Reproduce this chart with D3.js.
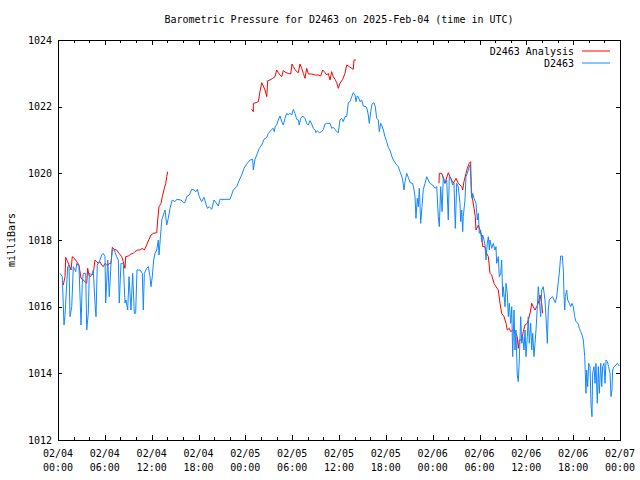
<!DOCTYPE html>
<html><head><meta charset="utf-8">
<script src="https://cdn.jsdelivr.net/npm/d3@7"></script>
<style>
body{margin:0;background:#fff}
svg text{font-family:"DejaVu Sans Mono","Liberation Mono",monospace;font-size:10px;fill:#000}
</style>
</head><body>
<svg id="chart" width="640" height="480"></svg>
<script>
const title = "Barometric Pressure for D2463 on 2025-Feb-04 (time in UTC)";
const yAxisLabel = "milliBars";
const seriesNames = ["D2463 Analysis", "D2463"];
const yTicks = [1012, 1014, 1016, 1018, 1020, 1022, 1024];
const xTickHours = [0, 6, 12, 18, 24, 30, 36, 42, 48, 54, 60, 66, 72];
const xTickDates = ["02/04","02/04","02/04","02/04","02/05","02/05","02/05","02/05","02/06","02/06","02/06","02/06","02/07"];
const xTickTimes = ["00:00","06:00","12:00","18:00","00:00","06:00","12:00","18:00","00:00","06:00","12:00","18:00","00:00"];

// [hours since 02/04 00:00 UTC, pressure mb]
const analysis = [
[0.68,1016.65],[0.90,1016.90],[0.99,1017.48],[1.24,1017.35],[1.41,1017.25],[1.67,1017.10],[1.83,1017.50],[2.09,1017.45],[2.40,1017.35],[2.69,1017.25],[2.95,1016.85],[3.24,1016.80],[3.46,1016.75],[3.68,1016.70],[3.80,1017.15],[3.97,1016.95],[4.10,1016.90],[4.32,1016.95],[4.52,1017.00],[4.74,1017.40],[4.96,1017.35],[5.16,1017.30],[5.38,1017.35],[5.60,1017.25],[5.80,1017.20],[6.02,1017.30],[6.24,1017.25],[6.44,1017.25],[6.57,1017.30],[6.79,1017.30],[6.96,1017.78],[7.21,1017.72],[7.52,1017.70],[7.81,1017.60],[8.16,1017.50],[8.37,1017.35],[8.58,1017.15],[8.67,1017.50],[9.01,1017.52],[9.35,1017.58],[9.65,1017.60],[9.86,1017.65],[10.21,1017.70],[10.51,1017.70],[10.80,1017.75],[11.06,1017.70],[11.36,1017.85],[11.66,1018.02],[11.91,1018.15],[12.21,1018.20],[12.65,1018.22],[12.77,1018.60],[12.94,1019.00],[13.20,1019.10],[13.36,1019.30],[13.62,1019.55],[13.80,1019.70],[13.93,1019.90],[14.05,1020.05],
[24.82,1021.92],[25.02,1021.85],[25.03,1022.10],[25.37,1022.12],[25.66,1022.15],[25.88,1022.45],[26.10,1022.72],[26.30,1022.62],[26.52,1022.50],[26.74,1022.30],[26.87,1022.78],[27.16,1022.80],[27.51,1022.85],[27.80,1022.90],[28.02,1023.10],[28.22,1023.02],[28.44,1022.95],[28.66,1022.90],[28.86,1023.08],[29.21,1023.02],[29.50,1023.00],[29.81,1022.98],[29.98,1023.28],[30.15,1023.20],[30.36,1023.12],[30.58,1023.05],[30.79,1023.02],[31.00,1023.28],[31.22,1023.15],[31.43,1023.00],[31.64,1022.85],[31.86,1023.15],[32.07,1022.98],[32.50,1022.98],[32.93,1022.95],[33.35,1022.95],[33.66,1022.92],[33.91,1023.10],[34.21,1023.02],[34.42,1022.95],[34.63,1023.00],[34.85,1022.80],[35.06,1023.05],[35.27,1022.90],[35.49,1022.82],[35.71,1022.72],[35.91,1022.55],[36.13,1022.70],[36.47,1022.82],[36.77,1023.00],[36.99,1023.25],[37.32,1023.20],[37.63,1023.15],[37.83,1023.12],[37.92,1023.40],[38.18,1023.40],
[48.81,1019.70],[48.85,1020.00],[49.16,1020.00],[49.58,1019.70],[50.00,1020.02],[50.22,1019.90],[50.64,1019.70],[50.99,1019.85],[51.28,1019.70],[51.72,1019.60],[51.85,1019.50],[52.01,1019.75],[52.27,1020.00],[52.44,1020.15],[52.69,1020.30],[52.87,1020.35],[52.95,1019.40],[53.13,1019.20],[53.30,1018.95],[53.46,1018.70],[53.55,1018.30],[53.85,1018.45],[54.06,1018.30],[54.28,1018.10],[54.41,1017.80],[54.70,1017.80],[54.92,1017.60],[55.13,1017.50],[55.35,1017.00],[55.56,1016.95],[55.86,1016.70],[56.11,1016.60],[56.41,1016.50],[56.63,1016.10],[56.84,1015.80],[57.14,1015.70],[57.40,1015.50],[57.56,1015.30],[57.82,1015.35],[58.00,1015.25],[58.25,1015.30],[58.42,1015.25],[58.67,1015.20],[58.84,1015.10],[58.97,1014.75],[59.10,1015.00],[59.41,1015.00],[59.61,1015.25],[59.83,1015.45],[60.12,1015.50],[60.38,1015.70],[60.56,1015.90],[60.69,1016.10],[60.89,1016.00],[61.11,1015.90],[61.33,1016.00],[61.53,1016.10],[61.75,1016.35],[61.97,1016.10],[62.09,1015.80]
];

const observed = [
[0.26,1017.00],[0.55,1016.90],[0.77,1015.45],[0.90,1015.75],[1.24,1017.20],[1.41,1017.25],[1.54,1015.70],[1.76,1016.00],[1.96,1017.20],[2.27,1017.05],[2.40,1017.30],[2.69,1017.20],[2.95,1015.45],[3.11,1016.70],[3.24,1017.00],[3.55,1017.00],[3.68,1015.30],[3.88,1015.81],[4.01,1017.00],[4.32,1016.95],[4.52,1017.10],[4.74,1016.11],[4.87,1015.70],[5.03,1017.25],[5.38,1017.40],[5.60,1017.55],[5.80,1017.60],[6.02,1017.50],[6.11,1016.11],[6.37,1017.40],[6.57,1016.30],[6.79,1017.30],[6.96,1017.70],[7.21,1017.70],[7.52,1017.50],[7.73,1017.40],[7.85,1016.11],[8.07,1017.30],[8.37,1017.30],[8.58,1016.11],[8.71,1016.20],[8.93,1015.90],[9.10,1016.90],[9.35,1015.90],[9.57,1017.00],[9.78,1015.80],[9.95,1015.80],[10.12,1017.10],[10.51,1017.10],[10.80,1017.00],[10.93,1015.90],[11.06,1017.00],[11.36,1017.15],[11.57,1017.20],[11.79,1016.90],[11.91,1016.60],[12.08,1016.90],[12.26,1017.40],[12.43,1017.60],[12.65,1017.70],[12.85,1018.00],[12.94,1017.55],[13.11,1018.05],[13.29,1018.60],[13.49,1018.75],[13.71,1018.90],[13.93,1018.45],[14.13,1018.65],[14.35,1018.95],[14.64,1019.20],[14.99,1019.15],[15.21,1019.22],[15.76,1019.20],[16.05,1019.12],[16.27,1019.12],[16.49,1019.30],[16.82,1019.35],[17.13,1019.52],[17.42,1019.50],[17.68,1019.45],[17.85,1019.52],[18.10,1019.30],[18.41,1019.15],[18.70,1019.28],[18.96,1019.08],[19.13,1018.95],[19.38,1019.00],[19.69,1018.92],[19.99,1019.20],[20.24,1019.12],[20.54,1019.02],[20.75,1019.22],[22.04,1019.22],[22.46,1019.50],[22.89,1019.60],[23.23,1019.80],[23.53,1019.95],[23.83,1020.15],[24.17,1020.28],[24.60,1020.40],[24.94,1020.42],[25.02,1020.10],[25.24,1020.42],[25.46,1020.55],[25.79,1020.75],[26.10,1020.85],[26.39,1021.02],[26.74,1021.08],[26.94,1021.20],[27.16,1021.25],[27.38,1021.32],[27.58,1021.35],[27.71,1021.25],[27.84,1021.42],[28.02,1021.45],[28.22,1021.60],[28.44,1021.72],[28.66,1021.55],[28.86,1021.45],[29.08,1021.65],[29.30,1021.80],[29.50,1021.75],[29.72,1021.80],[29.94,1021.75],[30.15,1021.92],[30.36,1021.80],[30.58,1021.62],[30.79,1021.60],[30.91,1021.45],[31.09,1021.65],[31.35,1021.72],[31.64,1021.65],[31.86,1021.50],[32.07,1021.45],[32.28,1021.58],[32.50,1021.48],[32.71,1021.35],[32.93,1021.30],[33.05,1021.22],[33.22,1021.28],[33.48,1021.22],[33.78,1021.25],[33.99,1021.32],[34.21,1021.48],[34.42,1021.50],[34.85,1021.50],[35.06,1021.35],[35.27,1021.38],[35.49,1021.32],[35.71,1021.25],[35.91,1021.22],[36.13,1021.60],[36.35,1021.65],[36.55,1021.55],[36.77,1021.70],[36.99,1021.70],[37.19,1022.12],[37.41,1022.15],[37.63,1022.30],[37.83,1022.42],[38.05,1022.35],[38.18,1022.15],[38.34,1022.32],[38.47,1022.30],[38.69,1022.15],[38.91,1022.20],[39.11,1022.02],[39.46,1022.00],[39.63,1021.90],[39.75,1021.75],[39.88,1021.50],[40.06,1021.85],[40.23,1022.08],[40.48,1022.12],[40.65,1022.00],[40.83,1021.65],[41.04,1021.60],[41.16,1021.25],[41.34,1021.50],[41.51,1021.42],[41.68,1021.30],[41.89,1021.10],[42.11,1020.95],[42.32,1020.78],[42.53,1020.70],[42.75,1020.52],[42.96,1020.40],[43.30,1020.28],[43.60,1020.20],[43.81,1020.05],[44.03,1019.92],[44.16,1019.80],[44.33,1019.50],[44.46,1019.75],[44.67,1020.00],[44.88,1019.88],[45.10,1019.72],[45.44,1019.70],[45.61,1019.50],[45.74,1019.30],[45.86,1018.65],[46.03,1019.25],[46.16,1019.00],[46.29,1019.55],[46.47,1018.50],[46.63,1019.00],[46.80,1019.52],[47.02,1019.70],[47.24,1019.90],[47.44,1019.80],[47.66,1019.70],[48.00,1019.65],[48.30,1019.55],[48.52,1019.60],[48.72,1018.70],[48.85,1018.40],[49.03,1019.60],[49.20,1018.85],[49.36,1019.90],[49.58,1019.70],[49.80,1019.80],[50.00,1018.60],[50.13,1019.90],[50.31,1019.85],[50.57,1019.65],[50.73,1019.70],[50.90,1018.35],[51.08,1019.70],[51.28,1019.60],[51.50,1019.10],[51.59,1018.55],[51.72,1018.90],[51.85,1018.25],[51.92,1018.70],[52.14,1019.20],[52.27,1019.90],[52.44,1020.00],[52.56,1020.10],[52.69,1020.20],[52.78,1020.25],[52.91,1019.80],[53.04,1019.25],[53.13,1019.40],[53.30,1019.25],[53.55,1019.10],[53.72,1018.60],[53.85,1018.80],[53.97,1018.20],[54.15,1018.30],[54.28,1017.95],[54.41,1018.15],[54.58,1018.00],[54.70,1017.85],[54.83,1017.40],[55.00,1017.90],[55.13,1018.10],[55.26,1017.70],[55.35,1018.00],[55.56,1017.75],[55.77,1017.90],[55.98,1017.70],[56.11,1017.80],[56.20,1017.30],[56.41,1017.50],[56.54,1016.90],[56.72,1017.00],[56.84,1017.40],[56.97,1016.30],[57.05,1016.60],[57.27,1016.00],[57.40,1016.70],[57.56,1016.40],[57.69,1015.70],[57.82,1016.10],[58.00,1015.50],[58.13,1016.00],[58.25,1014.50],[58.42,1015.90],[58.55,1014.70],[58.67,1015.30],[58.84,1013.95],[58.97,1013.75],[59.10,1014.40],[59.28,1015.70],[59.41,1014.90],[59.54,1015.10],[59.70,1014.70],[59.83,1015.30],[59.96,1014.50],[60.12,1015.10],[60.25,1015.70],[60.38,1014.90],[60.56,1015.50],[60.69,1014.70],[60.82,1015.20],[60.98,1014.50],[61.11,1014.90],[61.24,1015.30],[61.41,1016.00],[61.53,1016.60],[61.66,1016.20],[61.84,1015.70],[61.97,1016.50],[62.17,1016.60],[62.39,1016.20],[62.61,1015.30],[62.69,1014.90],[62.81,1015.90],[62.94,1016.20],[63.12,1016.25],[63.38,1016.30],[63.54,1016.20],[63.71,1016.12],[63.89,1016.30],[64.10,1016.75],[64.22,1017.00],[64.40,1017.52],[64.61,1017.52],[64.74,1017.10],[64.83,1016.30],[64.92,1015.90],[64.99,1016.30],[65.17,1016.50],[65.30,1016.20],[65.51,1016.10],[65.68,1016.00],[65.85,1016.10],[66.02,1016.00],[66.20,1015.70],[66.36,1015.55],[66.62,1015.50],[66.79,1015.35],[66.97,1015.25],[67.13,1015.15],[67.30,1015.00],[67.48,1014.50],[67.64,1013.40],[67.73,1014.10],[67.86,1013.60],[67.99,1014.30],[68.16,1014.20],[68.29,1013.05],[68.41,1012.70],[68.50,1014.00],[68.67,1014.20],[68.80,1013.70],[68.92,1014.30],[69.09,1013.10],[69.22,1014.20],[69.35,1013.40],[69.53,1014.30],[69.66,1013.60],[69.78,1014.20],[69.95,1014.30],[70.08,1013.70],[70.21,1014.40],[70.37,1014.35],[70.55,1014.20],[70.72,1014.00],[70.85,1013.30],[70.97,1013.50],[71.06,1014.10],[71.23,1014.20],[71.49,1014.25],[71.65,1014.30],[71.91,1014.22]
];

const colors = ["#ff0000", "#1188ff"];

(function () {
const svg = d3.select("#chart");
const pLeft = 58, pRight = 620, pTop = 40, pBottom = 440;
const x = d3.scaleLinear().domain([0, 72]).range([pLeft, pRight]);
const y = d3.scaleLinear().domain([1012, 1024]).range([pBottom, pTop]);

svg.append("text").attr("x", (pLeft + pRight) / 2).attr("y", 23)
  .attr("text-anchor", "middle").text(title);

svg.append("text").attr("transform", "translate(15,240) rotate(-90)")
  .attr("text-anchor", "middle").text(yAxisLabel);

function segments(data, gap) {
  const out = []; let cur = [];
  data.forEach((d, i) => {
    if (i > 0 && d[0] - data[i - 1][0] > gap) { out.push(cur); cur = []; }
    cur.push(d);
  });
  if (cur.length) out.push(cur);
  return out;
}
const line = d3.line().x(d => x(d[0])).y(d => y(d[1]));

const plot = svg.append("g");
segments(analysis, 3).forEach(seg => {
  plot.append("path").attr("d", line(seg)).attr("fill", "none")
    .attr("stroke", colors[0]).attr("stroke-width", 1);
});
segments(observed, 3).forEach(seg => {
  plot.append("path").attr("d", line(seg)).attr("fill", "none")
    .attr("stroke", colors[1]).attr("stroke-width", 1);
});

const minorHours = d3.range(0, 73, 2).filter(h => h % 6 !== 0);
function styleAxis(g) {
  g.select(".domain").remove();
  g.selectAll("line").attr("stroke", "#000").attr("shape-rendering", "crispEdges");
  g.attr("font-family", null).attr("font-size", null);
}
svg.append("g").attr("transform", `translate(0,${pBottom})`)
  .call(d3.axisBottom(x).tickValues(xTickHours).tickSizeInner(-5).tickSizeOuter(0).tickFormat(""))
  .call(styleAxis);
svg.append("g").attr("transform", `translate(0,${pBottom})`)
  .call(d3.axisBottom(x).tickValues(minorHours).tickSizeInner(-3).tickSizeOuter(0).tickFormat(""))
  .call(styleAxis);
svg.append("g").attr("transform", `translate(0,${pTop})`)
  .call(d3.axisTop(x).tickValues(xTickHours).tickSizeInner(-5).tickSizeOuter(0).tickFormat(""))
  .call(styleAxis);
svg.append("g").attr("transform", `translate(0,${pTop})`)
  .call(d3.axisTop(x).tickValues(minorHours).tickSizeInner(-3).tickSizeOuter(0).tickFormat(""))
  .call(styleAxis);
const yl = svg.append("g").attr("transform", `translate(${pLeft},0)`)
  .call(d3.axisLeft(y).tickValues(yTicks).tickSizeInner(-4).tickSizeOuter(0).tickPadding(6).tickFormat(d3.format("d")))
  .call(styleAxis);
yl.selectAll("text").attr("fill", "#000");
svg.append("g").attr("transform", `translate(${pRight},0)`)
  .call(d3.axisRight(y).tickValues(yTicks).tickSizeInner(-4).tickSizeOuter(0).tickFormat(""))
  .call(styleAxis);

const xl = svg.append("g");
xTickHours.forEach((h, i) => {
  const t = xl.append("text").attr("x", x(h)).attr("text-anchor", "middle");
  t.append("tspan").attr("x", x(h)).attr("y", 457).text(xTickDates[i]);
  t.append("tspan").attr("x", x(h)).attr("y", 471).text(xTickTimes[i]);
});

svg.append("rect").attr("x", pLeft + 0.5).attr("y", pTop + 0.5)
  .attr("width", pRight - pLeft).attr("height", pBottom - pTop)
  .attr("fill", "none").attr("stroke", "#000").attr("shape-rendering", "crispEdges");

seriesNames.forEach((name, i) => {
  const yy = 51 + i * 12;
  svg.append("text").attr("x", 574).attr("y", yy + 3.5).attr("text-anchor", "end").text(name);
  svg.append("line").attr("x1", 582).attr("x2", 610).attr("y1", yy).attr("y2", yy)
    .attr("stroke", colors[i]).attr("stroke-width", 1);
});
})();
</script>
</body></html>
